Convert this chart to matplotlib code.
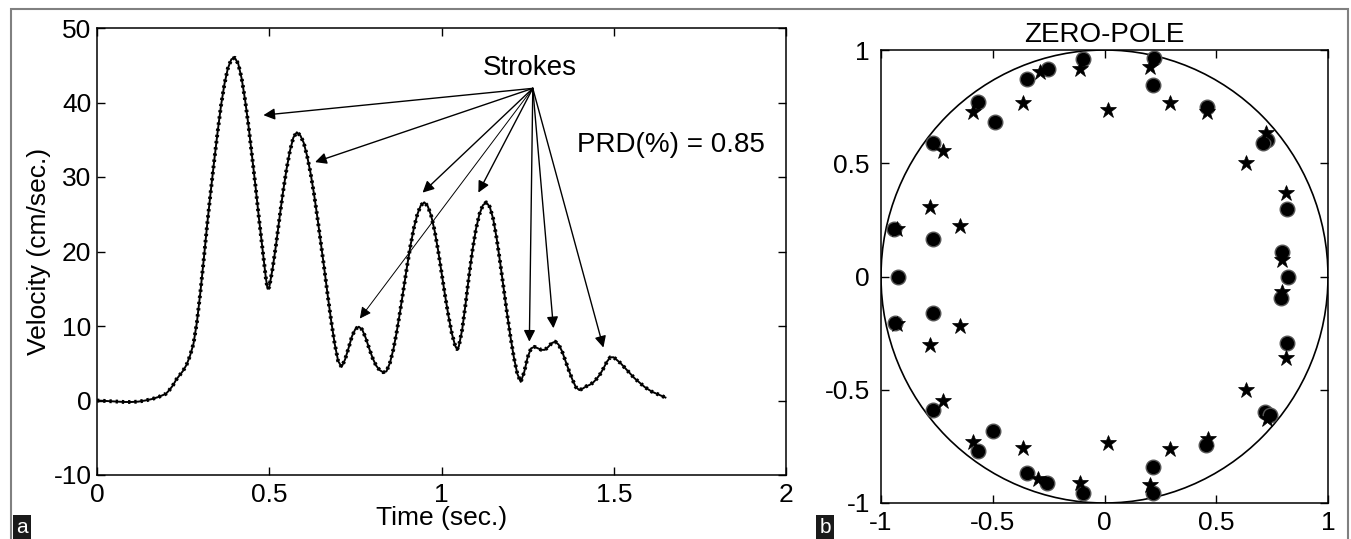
import matplotlib.pyplot as plt
from matplotlib.patches import Rectangle, Circle

plt.rcParams['font.family'] = ['Liberation Sans', 'DejaVu Sans']
plt.rcParams['axes.unicode_minus'] = False

# velocity profile (panel a)
time_s = [0.00, 0.02, 0.04, 0.06, 0.08, 0.10, 0.12, 0.14, 0.16, 0.18,
          0.20, 0.21, 0.22, 0.23, 0.24, 0.25, 0.26, 0.27, 0.28, 0.29,
          0.30, 0.31, 0.32, 0.33, 0.34, 0.35, 0.36, 0.37, 0.38, 0.39,
          0.40, 0.41, 0.42, 0.43, 0.44, 0.45, 0.46, 0.47, 0.48, 0.49,
          0.495, 0.50, 0.51, 0.52, 0.53, 0.54, 0.55, 0.56, 0.57, 0.58,
          0.59, 0.60, 0.61, 0.62, 0.63, 0.64, 0.65, 0.66, 0.67, 0.68,
          0.69, 0.70, 0.71, 0.72, 0.73, 0.74, 0.75, 0.76, 0.77, 0.78,
          0.79, 0.80, 0.81, 0.82, 0.83, 0.84, 0.85, 0.86, 0.87, 0.88,
          0.89, 0.90, 0.91, 0.92, 0.93, 0.94, 0.95, 0.96, 0.97, 0.98,
          0.99, 1.00, 1.01, 1.02, 1.03, 1.04, 1.045, 1.05, 1.06, 1.07,
          1.08, 1.09, 1.10, 1.11, 1.12, 1.13, 1.14, 1.15, 1.16, 1.17,
          1.18, 1.19, 1.20, 1.21, 1.22, 1.23, 1.24, 1.25, 1.26, 1.27,
          1.28, 1.29, 1.30, 1.31, 1.32, 1.33, 1.34, 1.35, 1.36, 1.37,
          1.38, 1.39, 1.40, 1.41, 1.42, 1.43, 1.44, 1.45, 1.46, 1.47,
          1.48, 1.49, 1.50, 1.51, 1.52, 1.53, 1.54, 1.55, 1.56, 1.57,
          1.58, 1.59, 1.60, 1.61, 1.62, 1.63, 1.64, 1.65]
velocity = [0.0, -0.05, -0.1, -0.15, -0.2, -0.2, -0.15, 0.0, 0.2, 0.5,
            0.9, 1.4, 2.0, 2.8, 3.4, 4.0, 4.8, 6.0, 7.6, 10.5,
            14.5, 19.0, 23.7, 28.0, 32.1, 36.0, 39.6, 42.5, 44.6, 45.8,
            46.0, 45.2, 43.2, 40.3, 36.8, 32.8, 28.8, 24.5, 20.5, 16.5,
            15.0, 15.2, 17.8, 21.0, 24.6, 28.0, 31.0, 33.5, 35.3, 36.0,
            35.6, 34.6, 32.8, 30.5, 27.7, 24.5, 21.1, 17.6, 14.0, 10.6,
            7.6, 5.3, 4.5, 5.5, 7.0, 8.6, 9.6, 9.9, 9.5, 8.4,
            7.0, 5.7, 4.7, 4.1, 3.8, 3.9, 5.0, 6.8, 9.2, 12.0,
            15.0, 18.0, 20.8, 23.2, 25.0, 26.2, 26.6, 26.1, 24.8, 22.8,
            20.2, 17.2, 14.2, 11.4, 9.0, 7.3, 6.9, 7.2, 9.5, 13.0,
            16.8, 20.2, 23.0, 25.0, 26.2, 26.6, 26.0, 24.4, 21.8, 18.6,
            15.2, 11.8, 8.6, 5.8, 3.6, 2.5, 3.8, 5.8, 7.0, 7.2,
            7.0, 6.8, 6.8, 7.2, 7.7, 7.9, 7.5, 6.6, 5.3, 4.0,
            2.8, 1.8, 1.4, 1.6, 1.9, 2.1, 2.4, 2.9, 3.5, 4.3,
            5.2, 5.8, 5.8, 5.4, 5.0, 4.5, 4.0, 3.5, 3.0, 2.6,
            2.2, 1.8, 1.5, 1.2, 1.0, 0.8, 0.6, 0.4]

# "Strokes" annotation: source point and arrow tips (time, velocity)
stroke_src = (1.265, 41.9)
stroke_tips_t = [0.483, 0.633, 0.945, 1.107, 0.763, 1.255, 1.325, 1.470]
stroke_tips_v = [38.3, 32.0, 27.9, 27.9, 11.0, 7.9, 9.7, 7.1]
prd_text = "PRD(%) = 0.85"

# zero-pole plot (panel b)
zeros_re = [-0.095, 0.223, 0.218, -0.254, -0.348, -0.565, -0.490, 0.457,
            0.726, 0.710, -0.766, 0.815, 0.793, -0.942, -0.766,
            -0.925, 0.822,
            -0.766, -0.937, 0.788, 0.815, -0.766, 0.718, 0.740, -0.497,
            -0.565, 0.453, -0.348, -0.259, 0.218, -0.095, 0.218]
zeros_im = [0.959, 0.963, 0.845, 0.915, 0.871, 0.772, 0.681, 0.747,
            0.603, 0.590, 0.591, 0.297, 0.107, 0.208, 0.164,
            0.0, 0.0,
            -0.163, -0.204, -0.096, -0.295, -0.589, -0.597, -0.611, -0.681,
            -0.769, -0.744, -0.866, -0.913, -0.842, -0.957, -0.957]
poles_re = [-0.110, 0.204, -0.289, 0.014, 0.293, -0.366, -0.587, 0.457,
            0.723, -0.721, 0.633, 0.812, -0.781, -0.647, -0.930, 0.793,
            0.793, 0.812, 0.633, 0.726, -0.647, -0.781, -0.927, -0.724,
            -0.587, -0.366, -0.296, -0.110, 0.204, 0.014, 0.293, 0.462]
poles_im = [0.916, 0.926, 0.904, 0.735, 0.767, 0.765, 0.728, 0.728,
            0.632, 0.554, 0.502, 0.367, 0.305, 0.223, 0.208, 0.073,
            -0.067, -0.361, -0.501, -0.631, -0.219, -0.302, -0.210, -0.548,
            -0.729, -0.759, -0.896, -0.910, -0.920, -0.734, -0.763, -0.719]

fig = plt.figure(figsize=(13.51, 5.39), dpi=100)

# outer grey frame
fig.add_artist(Rectangle((11 / 1351, -0.01), 1337 / 1351, 1.01 - 9 / 539,
                         transform=fig.transFigure, fill=False,
                         edgecolor='#808080', lw=1.5))


def matlab_axes(ax, xpad, ypad):
    for s in ax.spines.values():
        s.set_linewidth(1.1)
    ax.tick_params(direction='in', length=6, width=1.0, top=True, right=True,
                   labelsize=19)
    ax.tick_params(axis='x', pad=xpad)
    ax.tick_params(axis='y', pad=ypad)


# ---- panel a ----
ax1 = fig.add_axes([97 / 1351, 1 - 475 / 539, 689 / 1351, 447 / 539])
ax1.plot(time_s, velocity, color='k', lw=1.4)
ax1.plot(time_s, velocity, color='k', lw=2.8, ls=(0, (0.6, 1.0)))
ax1.set_xlim(0, 2)
ax1.set_ylim(-10, 50)
ax1.set_xticks([0, 0.5, 1, 1.5, 2])
ax1.set_xticklabels(['0', '0.5', '1', '1.5', '2'])
ax1.set_yticks(range(-10, 51, 10))
matlab_axes(ax1, 6, 4)
ax1.set_xlabel('Time (sec.)', fontsize=19, labelpad=-1)
ax1.set_ylabel('Velocity (cm/sec.)', fontsize=19, labelpad=2)

for i, (tt, vv) in enumerate(zip(stroke_tips_t, stroke_tips_v)):
    ax1.annotate('', xy=(tt, vv), xytext=stroke_src,
                 arrowprops=dict(arrowstyle='-|>', color='k',
                                 lw=0.7 if i == 4 else 1.0,
                                 mutation_scale=17, shrinkA=0, shrinkB=0))
ax1.text(1.257, 44.6, 'Strokes', fontsize=20, ha='center', va='center')
ax1.text(1.392, 34.3, prd_text, fontsize=20, ha='left', va='center')

# ---- panel b ----
ax2 = fig.add_axes([881 / 1351, 1 - 503 / 539, 447 / 1351, 453 / 539])
ax2.add_patch(Circle((0, 0), 1, fill=False, edgecolor='k', lw=1.2))
ax2.plot(zeros_re, zeros_im, 'o', color='k', markersize=10.5,
         markeredgecolor='#555555', markeredgewidth=1.0)
ax2.plot(poles_re, poles_im, '*', color='k', markersize=12,
         markeredgecolor='k', markeredgewidth=0.5)
ax2.set_xlim(-1, 1)
ax2.set_ylim(-1, 1)
ax2.set_xticks([-1, -0.5, 0, 0.5, 1])
ax2.set_xticklabels(['-1', '-0.5', '0', '0.5', '1'])
ax2.set_yticks([-1, -0.5, 0, 0.5, 1])
ax2.set_yticklabels(['-1', '-0.5', '0', '0.5', '1'])
matlab_axes(ax2, 6, 8)
ax2.set_title('ZERO-POLE', fontsize=20, pad=6)

# panel letters
fig.text(22 / 1351, 2 / 539, 'a', color='white', fontsize=15, ha='center',
         va='bottom', bbox=dict(facecolor='#1a1a1a', edgecolor='none',
                                boxstyle='square,pad=0.15'))
fig.text(825 / 1351, 2 / 539, 'b', color='white', fontsize=15, ha='center',
         va='bottom', bbox=dict(facecolor='#1a1a1a', edgecolor='none',
                                boxstyle='square,pad=0.15'))

fig.savefig('out.png', dpi=100)
